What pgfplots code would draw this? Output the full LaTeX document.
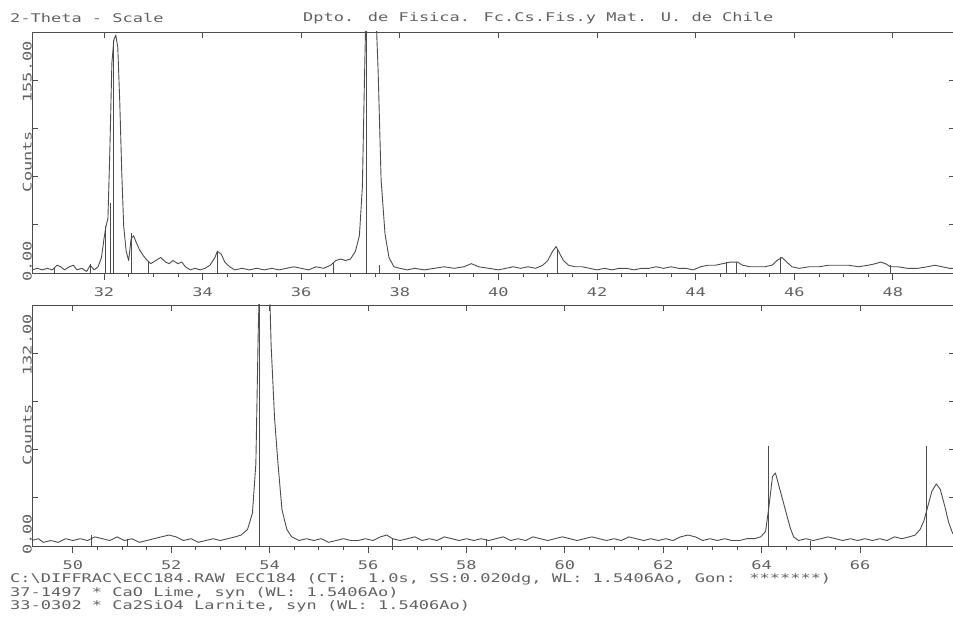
\documentclass[border=0pt]{standalone}
\usepackage{pgfplots}
\pgfplotsset{compat=1.18}
\usepackage{fontspec}
\newfontfamily\dotfont[FakeStretch=1.42]{DejaVu Sans Mono}
\definecolor{ink}{gray}{0.3}
\definecolor{txt}{gray}{0.38}
\pgfplotsset{
  panel/.style={scale only axis, width=923bp, height=241bp, ymin=0,
    axis line style={ink, line width=0.9bp}, anchor=south west,
    tick style={ink, line width=0.8bp},
    /pgf/number format/assume math mode=true,
    xticklabel style={font=\dotfont\fontsize{12}{13}\selectfont, text=txt},
  },
  mainp/.style={panel, tick align=outside, xtick pos=lower, ytick=\empty,
    minor x tick num=3, major tick length=7bp, minor tick length=4bp,
    xticklabel style={yshift=-4bp}, clip=true},
  overp/.style={panel, tick align=inside, xtick pos=upper, xticklabels={},
    ytick pos=both, yticklabels={}, major tick length=6bp, minor x tick num=0},
  curve/.style={ink, line width=0.9bp, line join=round, mark=none},
  stick/.style={ink, line width=0.8bp, ycomb, mark=none},
}
\tikzset{lbl/.style={font=\dotfont\fontsize{12}{13}\selectfont, text=txt, inner sep=0pt}}
\begin{document}
\begin{tikzpicture}[x=1bp,y=1bp]
\path[use as bounding box] (0,0) rectangle (953,620);
\node[lbl, anchor=base west] at (10,597.5) {2-Theta - Scale};
\node[lbl, anchor=base west] at (303,598) {Dpto. de Fisica. Fc.Cs.Fis.y Mat. U. de Chile};
\node[lbl, anchor=base west] at (10,37) {C:\textbackslash DIFFRAC\textbackslash ECC184.RAW ECC184 (CT:~~1.0s, SS:0.020dg, WL: 1.5406Ao, Gon: *******)};
\node[lbl, anchor=base west] at (10,23.5) {37-1497 * CaO Lime, syn (WL: 1.5406Ao)};
\node[lbl, anchor=base west] at (10,10) {33-0302 * Ca2SiO4 Larnite, syn (WL: 1.5406Ao)};

% ---------------- top panel ----------------
\begin{axis}[mainp, at={(32bp,347bp)}, xmin=30.54, xmax=49.26, ymax=155, xtick={32,34,...,48}]
\addplot[curve] coordinates {(30.54,2)(30.65,3)(30.75,2)(30.85,3)(30.95,2)(31.05,5)(31.12,4)(31.2,2)(31.3,4)(31.38,5)(31.45,2)(31.55,3)(31.65,1)(31.72,5)(31.8,2)(31.88,4)(31.95,10)(32.0,22)(32.04,30)(32.08,35)(32.12,80)(32.16,135)(32.2,150)(32.24,153)(32.28,145)(32.32,110)(32.36,65)(32.4,30)(32.45,14)(32.5,8)(32.55,22)(32.6,24)(32.65,20)(32.72,15)(32.8,11)(32.88,8)(32.95,6)(33.05,8)(33.15,10)(33.25,7)(33.32,6)(33.4,8)(33.5,6)(33.58,7)(33.65,4)(33.75,2)(33.85,3)(33.95,2)(34.05,3)(34.15,5)(34.25,10)(34.3,14)(34.38,12)(34.45,7)(34.55,4)(34.65,2)(34.8,3)(34.95,2)(35.1,3)(35.25,2)(35.4,3)(35.55,2)(35.7,3)(35.85,4)(36.0,3)(36.15,2)(36.3,4)(36.45,3)(36.6,5)(36.7,8)(36.8,9)(36.9,8)(37.0,9)(37.1,14)(37.18,24)(37.24,55)(37.28,120)(37.32,180)(37.5,180)(37.56,130)(37.62,60)(37.7,25)(37.78,10)(37.88,4)(38.0,3)(38.15,2)(38.3,3)(38.5,2)(38.7,3)(38.9,4)(39.1,3)(39.3,4)(39.45,6)(39.6,4)(39.8,3)(40.0,2)(40.15,3)(40.3,4)(40.45,3)(40.6,4)(40.75,3)(40.9,5)(41.0,8)(41.1,14)(41.17,17)(41.25,12)(41.32,8)(41.42,5)(41.55,4)(41.7,4)(41.85,3)(42.0,2)(42.15,3)(42.3,2)(42.45,3)(42.6,3)(42.75,2)(42.9,3)(43.05,3)(43.2,4)(43.35,3)(43.5,4)(43.65,3)(43.8,3)(43.95,2)(44.1,4)(44.25,5)(44.4,5)(44.55,6)(44.7,7)(44.85,7)(44.95,5)(45.1,4)(45.25,4)(45.4,4)(45.55,5)(45.65,8)(45.75,10)(45.85,7)(45.95,4)(46.1,3)(46.3,4)(46.5,4)(46.7,5)(46.9,5)(47.1,5)(47.3,4)(47.5,5)(47.65,6)(47.75,7)(47.85,6)(47.95,4)(48.1,4)(48.3,3)(48.5,3)(48.7,4)(48.85,5)(49.0,4)(49.15,3)(49.26,3)};
\addplot[stick] coordinates {(31.0,3)(31.72,6)(32.03,30)(32.12,45)(32.2,150)(32.55,26)(32.9,8)(34.3,14)(36.65,7)(37.32,200)(37.58,5)(41.2,15)(44.62,7)(44.82,7)(45.72,10)(47.95,5)};
\end{axis}
\begin{axis}[overp, at={(32bp,347bp)}, xmin=30.54, xmax=49.26, ymax=155, xtick={32,34,...,48}, ytick={0,31,...,155}, clip=false]
\node[lbl, rotate=90, anchor=south west, xshift=-9bp] at (rel axis cs:0,0) {0.00};
\node[lbl, rotate=90, anchor=south east, xshift=-9bp] at (rel axis cs:0,1) {155.00};
\node[lbl, rotate=90, anchor=south, xshift=-9bp] at (rel axis cs:0,0.5) {Counts};
\end{axis}

% ---------------- bottom panel ----------------
\begin{axis}[mainp, at={(32bp,74bp)}, xmin=49.17, xmax=67.93, ymax=132, xtick={50,52,...,66}]
\addplot[curve] coordinates {(49.17,3)(49.3,4)(49.4,2)(49.55,3)(49.7,2)(49.85,4)(50.0,3)(50.15,4)(50.3,3)(50.45,5)(50.6,4)(50.75,3)(50.9,5)(51.05,3)(51.2,4)(51.35,2)(51.5,3)(51.65,4)(51.8,5)(51.95,6)(52.1,5)(52.25,3)(52.4,4)(52.55,2)(52.7,3)(52.85,4)(53.0,3)(53.15,4)(53.3,5)(53.42,6)(53.55,9)(53.65,18)(53.72,45)(53.77,120)(53.82,170)(53.97,170)(54.03,110)(54.1,70)(54.17,45)(54.25,20)(54.35,9)(54.45,5)(54.6,3)(54.75,4)(54.9,3)(55.05,4)(55.2,2)(55.35,3)(55.5,4)(55.65,3)(55.8,3)(55.95,4)(56.1,3)(56.25,5)(56.38,6)(56.5,4)(56.65,3)(56.8,4)(56.95,5)(57.1,3)(57.25,4)(57.4,3)(57.55,5)(57.7,4)(57.85,3)(58.0,4)(58.15,3)(58.3,4)(58.45,3)(58.6,4)(58.75,5)(58.9,3)(59.05,4)(59.2,3)(59.35,5)(59.5,4)(59.65,3)(59.8,4)(59.95,5)(60.1,4)(60.25,3)(60.4,4)(60.55,5)(60.7,4)(60.85,3)(61.0,4)(61.15,3)(61.3,5)(61.45,4)(61.6,3)(61.75,4)(61.9,3)(62.05,4)(62.2,3)(62.35,5)(62.5,6)(62.65,5)(62.8,3)(62.95,4)(63.1,3)(63.25,4)(63.4,3)(63.55,3)(63.7,4)(63.85,4)(63.98,5)(64.08,8)(64.15,22)(64.22,38)(64.28,40)(64.35,33)(64.42,26)(64.5,18)(64.58,10)(64.65,5)(64.75,3)(64.9,4)(65.05,3)(65.2,4)(65.35,5)(65.5,4)(65.65,3)(65.8,4)(65.95,3)(66.1,4)(66.25,3)(66.4,4)(66.55,3)(66.7,5)(66.85,4)(67.0,5)(67.12,6)(67.22,9)(67.3,14)(67.38,22)(67.46,30)(67.55,34)(67.63,31)(67.72,22)(67.8,13)(67.88,7)(67.93,6)};
\addplot[stick] coordinates {(50.38,6)(51.1,4)(53.8,200)(56.5,4)(58.4,4)(64.14,55)(65.0,3)(67.34,55)};
\end{axis}
\begin{axis}[overp, at={(32bp,74bp)}, xmin=49.17, xmax=67.93, ymax=132, xtick={50,52,...,66}, ytick={0,26.4,...,132}, clip=false]
\node[lbl, rotate=90, anchor=south west, xshift=-9bp] at (rel axis cs:0,0) {0.00};
\node[lbl, rotate=90, anchor=south east, xshift=-9bp] at (rel axis cs:0,1) {132.00};
\node[lbl, rotate=90, anchor=south, xshift=-9bp] at (rel axis cs:0,0.5) {Counts};
\end{axis}
\end{tikzpicture}
\end{document}
